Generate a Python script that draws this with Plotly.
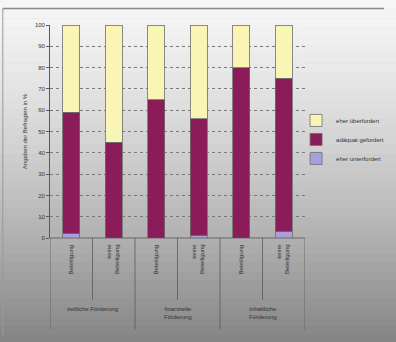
import plotly.graph_objects as go

# Kategorien (innere Ebene: Teilnahme, äußere Ebene: Art der Förderung)
bar_labels = ["Beteiligung", "keine<br>Beteiligung",
              "Beteiligung", "keine<br>Beteiligung",
              "Beteiligung", "keine<br>Beteiligung"]
group_labels = ["zeitliche Förderung", "finanzielle<br>Förderung", "inhaltliche<br>Förderung"]

# Anteile in %
unterfordert = [2, 0, 0, 1, 0, 3]
adaequat = [57, 45, 65, 55, 80, 72]
ueberfordert = [41, 55, 35, 44, 20, 25]

colors = {"eher unterfordert": "#a79fde",
          "adäquat gefordert": "#8a1c5a",
          "eher überfordert": "#f9f5b4"}

x = list(range(len(bar_labels)))

fig = go.Figure()
for name, vals in [("eher unterfordert", unterfordert),
                   ("adäquat gefordert", adaequat),
                   ("eher überfordert", ueberfordert)]:
    fig.add_trace(go.Bar(
        x=x, y=vals, name=name, width=0.4,
        marker=dict(color=colors[name], line=dict(color="#6e6e6e", width=0.8)),
    ))

W, H = 396, 342
shapes = []
# Hintergrundverlauf (hell oben, dunkler unten)
n = 40
for i in range(n):
    t = i / (n - 1)
    c = int(248 - 115 * t ** 1.4)
    shapes.append(dict(type="rect", xref="paper", yref="paper", layer="below",
                       x0=-0.3, x1=1.5, y0=1.2 - (i + 1) * 1.7 / n, y1=1.2 - i * 1.7 / n + 0.002,
                       fillcolor=f"rgb({c},{c},{c})", line=dict(width=0)))

# Rahmen der Grafik
shapes.append(dict(type="line", xref="paper", yref="paper",
                   x0=-0.185, x1=1.31, y0=1.078, y1=1.078,
                   line=dict(color="#8a8a8a", width=1.5)))
shapes.append(dict(type="line", xref="paper", yref="paper",
                   x0=-0.185, x1=-0.185, y0=1.078, y1=-0.46,
                   line=dict(color="#9a9a9a", width=1)))

# Trennlinien der Kategorieachse
for b in [-0.5, 0.5, 1.5, 2.5, 3.5, 4.5, 5.5]:
    outer = b in (-0.5, 1.5, 3.5, 5.5)
    shapes.append(dict(type="line", xref="x", yref="paper",
                       x0=b, x1=b, y0=0, y1=-0.43 if outer else -0.29,
                       line=dict(color="#5a5a5a", width=0.8)))
shapes.append(dict(type="line", xref="x", yref="paper", x0=-0.5, x1=5.5, y0=0, y1=0,
                   line=dict(color="#5a5a5a", width=0.8)))

annotations = []
for i, lab in enumerate(bar_labels):
    annotations.append(dict(x=i, y=-0.02, xref="x", yref="paper", text=lab,
                            textangle=-90, showarrow=False, xanchor="center",
                            yanchor="top", align="right",
                            font=dict(size=6, color="#333", family="Arial")))
for g, lab in enumerate(group_labels):
    annotations.append(dict(x=2 * g + 0.5, y=-0.31, xref="x", yref="paper", text=lab,
                            showarrow=False, yanchor="top", xanchor="center",
                            font=dict(size=6, color="#333", family="Arial")))

fig.update_layout(
    width=W, height=H,
    margin=dict(l=50, r=91, t=25, b=104, autoexpand=False),
    paper_bgcolor="#c8c8c8",
    plot_bgcolor="rgba(255,255,255,0.3)",
    barmode="stack",
    bargap=0.5,
    shapes=shapes,
    annotations=annotations,
    showlegend=True,
    legend=dict(x=0.965, y=0.62, xanchor="left", yanchor="top",
                traceorder="reversed", bgcolor="rgba(0,0,0,0)",
                font=dict(size=6, color="#333", family="Arial"),
                itemwidth=30, tracegroupgap=2),
    font=dict(family="Arial", size=6, color="#333"),
)
fig.update_xaxes(range=[-0.5, 5.5], showticklabels=False, showgrid=False,
                 zeroline=False, showline=False, ticks="")
fig.update_yaxes(range=[0, 100], dtick=10, showgrid=True,
                 gridcolor="#7a7a7a", griddash="dot", gridwidth=0.7,
                 showline=True, linecolor="#5a5a5a", linewidth=0.8,
                 ticks="outside", ticklen=3, tickcolor="#5a5a5a",
                 tickfont=dict(size=6, color="#333"), zeroline=False,
                 title=dict(text="Angaben der Befragten in %",
                            font=dict(size=6, color="#333"), standoff=6))

fig.write_html("out.html")
